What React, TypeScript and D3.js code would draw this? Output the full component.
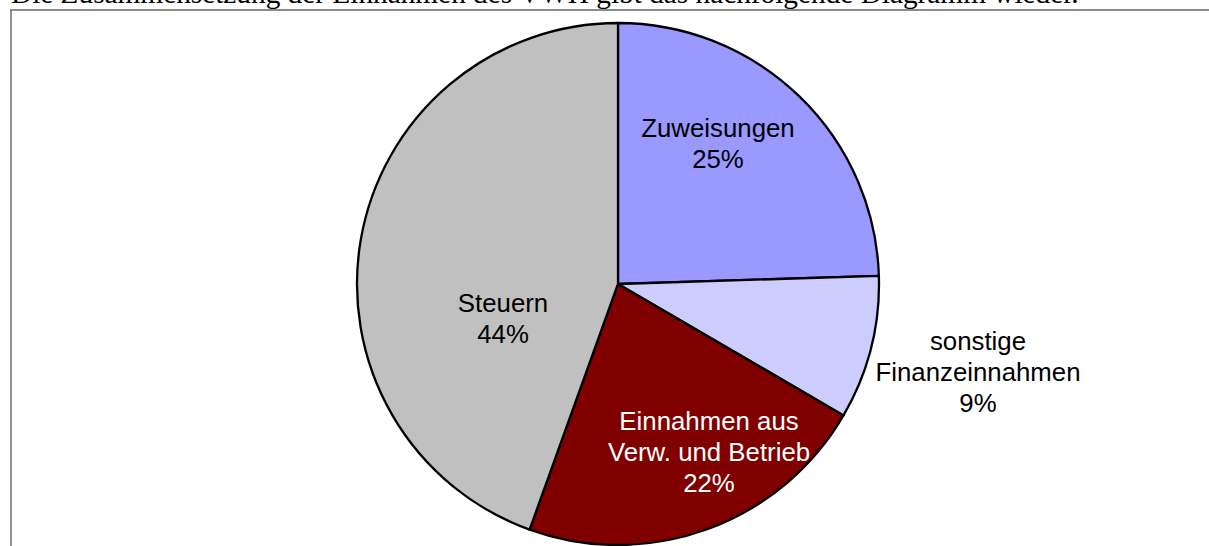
import React from "react";
import * as d3 from "d3";

const categories: string[] = [
  "Zuweisungen",
  "sonstige Finanzeinnahmen",
  "Einnahmen aus Verw. und Betrieb",
  "Steuern",
];
const values: number[] = [24.5, 8.9, 22.1, 44.5];
const percentLabels: string[] = ["25%", "9%", "22%", "44%"];
const labelLines: string[][] = [
  ["Zuweisungen"],
  ["sonstige", "Finanzeinnahmen"],
  ["Einnahmen aus", "Verw. und Betrieb"],
  ["Steuern"],
];
const colors: string[] = ["#9999FF", "#CCCCFF", "#800000", "#C0C0C0"];
const textColors: string[] = ["#000", "#000", "#fff", "#000"];
const heading =
  "Die Zusammensetzung der Einnahmen des VWH gibt das nachfolgende Diagramm wieder.";

// label anchor (first baseline) offsets relative to pie centre
const labelOffsets: [number, number][] = [
  [100, -147],
  [360, 66],
  [91, 146],
  [-115, 28],
];

const W = 1209;
const H = 546;
const CX = 618;
const CY = 284;
const R = 261;
const LINE_H = 31;

export default function App() {
  const pie = d3
    .pie<number>()
    .sort(null)
    .value((d) => d)
    .startAngle(0)
    .endAngle(2 * Math.PI);
  const arcs = pie(values);
  const arc = d3
    .arc<d3.PieArcDatum<number>>()
    .innerRadius(0)
    .outerRadius(R);

  return (
    <svg
      width={W}
      height={H}
      style={{ position: "absolute", left: 0, top: 0, background: "#fff" }}
    >
      <text
        x={11}
        y={3}
        fontFamily="'Liberation Serif', 'Times New Roman', serif"
        fontSize={29.3}
        fill="#000"
      >
        {heading}
      </text>
      <line x1={10} y1={10} x2={W} y2={10} stroke="#666" strokeWidth={1.3} />
      <line x1={11} y1={10} x2={11} y2={H} stroke="#777" strokeWidth={1.6} />
      <g transform={`translate(${CX},${CY})`}>
        {arcs.map((a, i) => (
          <path
            key={categories[i]}
            d={arc(a) || ""}
            fill={colors[i]}
            stroke="#000"
            strokeWidth={2.3}
            strokeLinejoin="round"
          />
        ))}
        {arcs.map((a, i) => {
          const lines = [...labelLines[i], percentLabels[i]];
          const [dx, dy] = labelOffsets[i];
          return (
            <text
              key={"l" + i}
              x={dx}
              y={dy}
              textAnchor="middle"
              fontFamily="'Liberation Sans', Arial, sans-serif"
              fontSize={25.8}
              fill={textColors[i]}
            >
              {lines.map((t, j) => (
                <tspan key={j} x={dx} dy={j === 0 ? 0 : LINE_H}>
                  {t}
                </tspan>
              ))}
            </text>
          );
        })}
      </g>
    </svg>
  );
}
